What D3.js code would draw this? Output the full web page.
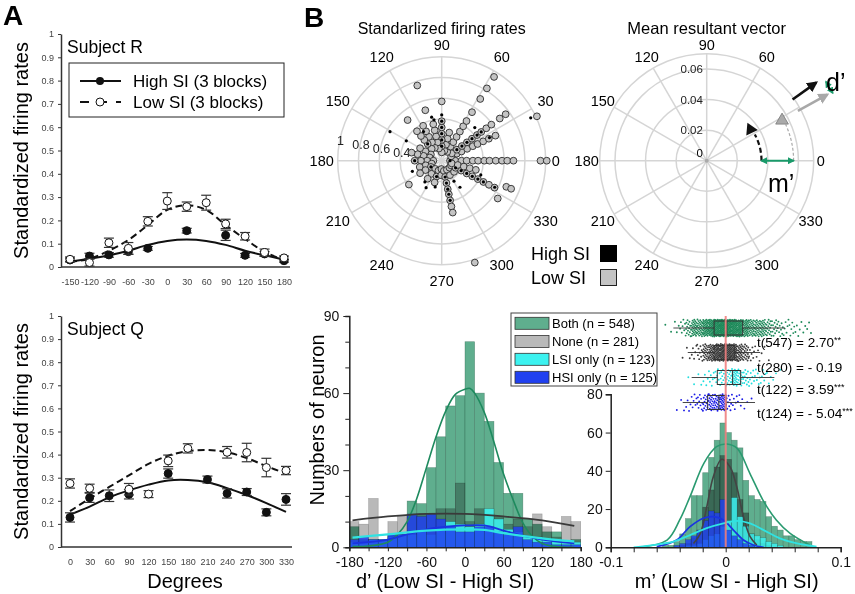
<!DOCTYPE html>
<html><head><meta charset="utf-8">
<script src="https://cdn.jsdelivr.net/npm/d3@7/dist/d3.min.js"></script>
<style>
body{margin:0;background:#fff;}
svg{display:block;}
text{font-family:"Liberation Sans",Arial,Helvetica,sans-serif;}
</style></head><body>
<svg id="fig" width="855" height="594" xmlns="http://www.w3.org/2000/svg"></svg>
<script>
// ================= DATA =================
// Panel A – Subject R
const degR = [-150,-120,-90,-60,-30,0,30,60,90,120,150,180];
const rLowMean = [0.033,0.019,0.104,0.080,0.196,0.283,0.259,0.276,0.185,0.132,0.062,0.039];
const rLowErr  = [0.010,0.015,0.020,0.025,0.020,0.036,0.020,0.032,0.020,0.016,0.015,0.008];
const rHighMean= [0.030,0.047,0.052,0.066,0.080,null,0.156,null,0.136,0.050,0.056,0.027];
const rHighErr = [0.008,0.012,0.010,0.012,0.008,null,0.010,null,0.022,0.008,0.010,0.006];
const rLowFit  = [0.023,0.035,0.070,0.116,0.180,0.245,0.265,0.245,0.180,0.120,0.065,0.030];
const rHighFit = [0.022,0.035,0.050,0.070,0.095,0.112,0.118,0.112,0.095,0.070,0.050,0.032];
// Panel A – Subject Q
const degQ = [0,30,60,90,120,150,180,210,240,270,300,330];
const qLowMean = [0.275,0.254,null,0.250,0.229,0.373,0.427,null,0.410,0.409,0.344,0.331];
const qLowErr  = [0.020,0.018,null,0.025,0.015,0.025,0.020,null,0.025,0.040,0.040,0.018];
const qHighMean= [0.128,0.213,0.222,0.228,null,0.318,null,0.292,0.232,0.238,0.150,0.206];
const qHighErr = [0.020,0.020,0.025,0.020,null,0.020,null,0.015,0.020,0.015,0.015,0.025];
const qLowFit  = [0.155,0.210,0.260,0.310,0.360,0.395,0.415,0.420,0.410,0.385,0.350,0.318];
const qHighFit = [0.140,0.175,0.215,0.245,0.270,0.288,0.290,0.280,0.255,0.225,0.190,0.152];
const yTicksA = [0,0.1,0.2,0.3,0.4,0.5,0.6,0.7,0.8,0.9,1];

// Panel B – polar plots
const polarAngles = [0,30,60,90,120,150,180,210,240,270,300,330];
const firingRings = [0.2,0.4,0.6,0.8,1.0];
const firingRingLabels = [0.4,0.6,0.8,1];
// Low SI neurons: [angle, radii along that direction]
const lowSIRays = [
  [0,   [0.08,0.13,0.19,0.24,0.30,0.35,0.41,0.46,0.52,0.58,0.63,0.69,0.95,1.01]],
  [25,  [0.10,0.16,0.21,0.27,0.33,0.38,0.44,0.50,0.57,1.01]],
  [36,  [0.12,0.18,0.24,0.30,0.36,0.42,0.47,0.53,0.59,0.69,0.76]],
  [58,  [0.10,0.16,0.21,0.27,0.33,0.39,0.45,0.55,0.70,0.82,0.95]],
  [75,  [0.10,0.16,0.22,0.28]],
  [90,  [0.08,0.14,0.20,0.26,0.32,0.38,0.57]],
  [103, [0.12,0.18,0.24,0.30,0.36]],
  [108, [0.51,0.76]],
  [118, [0.14,0.20,0.26,0.32,0.38]],
  [130, [0.15,0.21,0.26,0.31,0.37,0.51]],
  [150, [0.12,0.18,0.24]],
  [165, [0.12,0.18,0.24,0.30]],
  [180, [0.08,0.14,0.20,0.26]],
  [196, [0.10,0.16,0.22]],
  [210, [0.12,0.18,0.24]],
  [216, [0.39]],
  [232, [0.10,0.16,0.22]],
  [252, [0.10,0.16,0.22]],
  [268, [0.08,0.14]],
  [282, [0.10,0.16,0.22,0.28,0.33,0.39,0.45,0.51]],
  [288, [1.03]],
  [300, [0.10,0.16]],
  [318, [0.10,0.16]],
  [333, [0.10,0.15,0.21,0.27,0.33,0.39,0.45,0.51,0.57]],
  [326, [0.65]],
  [338, [0.67,0.72]],
  [345, [0.10,0.16,0.22,0.28,0.34]]
];
// High SI neurons: [angle, radius]
const highSIDots = [
  [90,0.14],[90,0.20],[90,0.26],[90,0.32],[90,0.38],[90,0.44],
  [282,0.16],[282,0.22],[282,0.28],[282,0.33],[282,0.39],
  [36,0.18],[36,0.24],[36,0.30],[36,0.36],[36,0.42],[36,0.47],
  [333,0.15],[333,0.21],[333,0.27],[333,0.33],[333,0.39],[333,0.45],
  [180,0.26],[0,0.08],[130,0.21],[210,0.12],[252,0.16],
  [150.7,0.57],[150.7,0.39],[103,0.43],[100.7,0.40],[122,0.33],
  [25.7,0.95],[25.8,0.51],[333.4,0.57],[301,0.23],[304.5,0.31],
  [231.6,0.26],[256,0.26],[45,0.45],[340,0.40],[200,0.30],[240,0.30]
];
// Mean resultant vector
const mrvRings = [0.02,0.04,0.06,0.07];
const mrvLabels = [0,0.02,0.04,0.06];
const meanVecHigh = {angle:35.5, r:0.0352};
const meanVecLow  = {angle:28.7, r:0.0562};
const dirHigh = {angle:35.5, r0:0.069, r1:0.088};
const dirLow  = {angle:28.7, r0:0.068, r1:0.090};

// d' histogram (15-degree bins from -180)
const dBinStart = [-180,-165,-150,-135,-120,-105,-90,-75,-60,-45,-30,-15,0,15,30,45,60,75,90,105,120,135,150,165];
const dBoth = [8,3,3,3,5,5,18,17,31,43,55,59,80,60,49,33,21,21,11,9,6,6,2,3];
const dNone = [10,9,19,2,10,12,12,13,13,15,15,25,10,15,13,12,9,11,8,13,8,4,12,10];
const dLSI  = [2,2,3,3,4,5,5,6,5,7,10,9,8,9,15,11,7,6,4,4,3,3,2,2];
const dHSI  = [3,4,3,3,5,5,13,12,13,11,8,6,6,8,8,6,5,8,3,2,2,1,1,1];
const dFitBoth = [[-175,0.3],[-150,0.5],[-120,2],[-105,5],[-90,10],[-75,19],[-60,31],[-45,43],[-30,53],[-15,59.5],[0,61.5],[8,61.8],[15,60],[30,52.5],[45,41],[60,28.5],[75,18.4],[90,9.5],[105,4.2],[120,1.5],[135,0.5],[150,0.1],[170,0]];
const dFitNone = [[-175,10.5],[-120,12],[-60,13],[0,13],[60,12],[120,10.5],[170,8.3]];
const dFitLSI  = [[-175,3.8],[-120,5],[-60,6.5],[0,7],[30,6.8],[60,5.5],[120,3.5],[170,2.3]];
const dFitHSI  = [[-175,1.5],[-120,3],[-90,5],[-60,7],[-30,8],[0,8.5],[30,8.5],[60,6.5],[90,4.5],[120,3],[170,1.5]];
const dTicks = [-180,-150,-120,-90,-60,-30,0,30,60,90,120,150,180];
const dTickLabels = [-180,-120,-60,0,60,120,180];

// m' histogram (0.005 bins from -0.1)
const mBinStart = d3.range(40).map(i => -0.1 + i*0.005);
const mBoth = [0,0,0,0,0,0,0,0,0,1, 1,3,7,15,27,27,39,47,56,65, 60,56,52,35,27,25,24,16,11,9, 6,6,4,3,3,0,0,0,0,0];
const mNone = [0,0,0,0,0,0,0,0,0,0, 0,0,1,2,5,9,21,30,42,48, 46,39,25,18,7,4,2,1,0,0, 0,0,0,0,0,0,0,0,0,0];
const mLSI  = [0,0,0,0,0,0,0,0,0,0, 0,0,0,1,1,2,4,6,7,11, 14,26,16,11,7,6,5,3,2,1, 0,0,0,0,0,0,0,0,0,0];
const mHSI  = [0,0,0,0,0,0,0,0,0,0, 0,1,2,4,6,9,14,19,18,25, 9,6,4,2,1,0,0,0,0,0, 0,0,0,0,0,0,0,0,0,0];
const mFitBoth = [[-0.075,0],[-0.051,3.8],[-0.040,14.3],[-0.031,26.5],[-0.019,43.9],[-0.008,52.6],[0.001,54],[0.010,51.7],[0.021,38.7],[0.033,24],[0.044,14.3],[0.056,7.3],[0.073,1.2]];
const mFitNone = [[-0.028,2],[-0.022,7.3],[-0.0165,21],[-0.0107,37],[-0.0035,46],[0.0038,42],[0.0096,31.7],[0.0154,16],[0.0212,5.6],[0.027,1.2]];
const mFitHSI  = [[-0.060,0.3],[-0.0426,3.8],[-0.031,10.8],[-0.0194,15.2],[-0.0107,16],[-0.002,14.3],[0.0067,9],[0.0154,3.8],[0.024,1.2],[0.033,0]];
const mFitLSI  = [[-0.080,0],[-0.0455,3],[-0.031,6.4],[-0.0165,10],[-0.002,12.5],[0.0096,13.8],[0.0212,12.5],[0.033,9],[0.047,4.7],[0.062,2],[0.079,0.3]];
const mTicks = [-0.1,-0.08,-0.06,-0.04,-0.02,0,0.02,0.04,0.06,0.08,0.1];
const mTickLabels = {"-0.1":"-0.1","0":"0","0.1":"0.1"};
// boxplot summaries of m'
const groupNames = ["Both (n = 548)","None (n = 281)","LSI only (n = 123)","HSI only (n = 125)"];
const boxLo  = [-0.0455,-0.033,-0.0296,-0.0374];
const boxQ1  = [-0.0101,-0.0101,-0.0073,-0.0157];
const boxMed = [0.0009,0.0003,0.0060,-0.0059];
const boxQ3  = [0.0148,0.0075,0.0130,0.0003];
const boxHi  = [0.0516,0.0300,0.0423,0.0255];
const tLabels = [["t(547) = 2.70","**"],["t(280) = - 0.19",""],["t(122) = 3.59","***"],["t(124) = - 5.04","***"]];

// ================= DRAW =================
const svg = d3.select('#fig');
const colGreen='#5fae8e', colGray='#b9b9b9', colCyan='#3cf2f0', colBlue='#2040f0';
const lnGreen='#1e8a5e', lnGray='#3a3a3a', lnCyan='#2fe3e3', lnBlue='#1a33e0';

function txt(g,x,y,s,size,o={}){
  const t=g.append('text').attr('x',x).attr('y',y).attr('font-size',size).text(s);
  if(o.anchor) t.attr('text-anchor',o.anchor);
  if(o.base) t.attr('dominant-baseline',o.base);
  if(o.weight) t.attr('font-weight',o.weight);
  if(o.fill) t.attr('fill',o.fill);
  if(o.rotate!==undefined) t.attr('transform',`rotate(${o.rotate},${x},${y})`);
  return t;
}

// ---------- Panel A ----------
function panelA(c){
  const g=svg.append('g');
  const x=d3.scaleLinear().domain([c.deg[0],c.deg[c.deg.length-1]]).range(c.xr);
  const y=d3.scaleLinear().domain([0,1]).range([c.y0,c.y1]);
  const ya=g.append('g').attr('transform','translate(61,0)')
    .call(d3.axisLeft(y).tickValues(yTicksA).tickSize(3).tickSizeOuter(0).tickPadding(4).tickFormat(d=>String(+d.toFixed(1))));
  ya.selectAll('text').attr('font-size',9).attr('fill','#444').attr('font-family','"Liberation Sans",Arial,sans-serif');
  ya.select('.domain').attr('stroke','#333').attr('stroke-width',1.5);
  ya.selectAll('.tick line').attr('stroke','#333');
  const xa=g.append('g').attr('transform',`translate(0,${c.y0})`)
    .call(d3.axisBottom(x).tickValues(c.deg).tickSize(0).tickPadding(12).tickFormat(d=>String(d)));
  xa.select('.domain').remove();
  xa.selectAll('text').attr('font-size',9).attr('fill','#444').attr('font-family','"Liberation Sans",Arial,sans-serif');
  g.append('line').attr('x1',61).attr('x2',c.xEnd).attr('y1',c.y0).attr('y2',c.y0).attr('stroke','#333').attr('stroke-width',1.5);
  const line=d3.line().x((d,i)=>x(c.deg[i])).y(d=>y(d)).curve(d3.curveCatmullRom.alpha(0.5));
  g.append('path').attr('d',line(c.lowFit)).attr('fill','none').attr('stroke','#111').attr('stroke-width',2).attr('stroke-dasharray','7,4');
  g.append('path').attr('d',line(c.highFit)).attr('fill','none').attr('stroke','#111').attr('stroke-width',2);
  const drawPts=(means,errs,filled)=>{
    means.forEach((m,i)=>{
      if(m===null) return;
      const xx=x(c.deg[i]), e=errs[i];
      g.append('line').attr('x1',xx).attr('x2',xx).attr('y1',y(m-e)).attr('y2',y(m+e)).attr('stroke','#333').attr('stroke-width',1);
      [m-e,m+e].forEach(v=>g.append('line').attr('x1',xx-5).attr('x2',xx+5).attr('y1',y(v)).attr('y2',y(v)).attr('stroke','#333').attr('stroke-width',1.2));
    });
    means.forEach((m,i)=>{
      if(m===null) return;
      g.append('circle').attr('cx',x(c.deg[i])).attr('cy',y(m)).attr('r',4)
        .attr('fill',filled?'#111':'#fff').attr('stroke','#111').attr('stroke-width',1);
    });
  };
  drawPts(c.highMean,c.highErr,true);
  drawPts(c.lowMean,c.lowErr,false);
  txt(g,28,(c.y0+c.y1)/2,'Standardized firing rates',20,{anchor:'middle',rotate:-90});
  txt(g,67,c.y1+19,c.title,17.5);
  return g;
}
panelA({deg:degR,xr:[70,284],xEnd:290,y0:267,y1:34,lowMean:rLowMean,lowErr:rLowErr,highMean:rHighMean,highErr:rHighErr,lowFit:rLowFit,highFit:rHighFit,title:'Subject R'});
panelA({deg:degQ,xr:[70,286],xEnd:292,y0:547,y1:316,lowMean:qLowMean,lowErr:qLowErr,highMean:qHighMean,highErr:qHighErr,lowFit:qLowFit,highFit:qHighFit,title:'Subject Q'});
txt(svg,185,588,'Degrees',20,{anchor:'middle'});
// legend A
const lg=svg.append('g');
lg.append('rect').attr('x',69).attr('y',63).attr('width',215).attr('height',54).attr('fill','#fff').attr('stroke','#222').attr('stroke-width',1);
lg.append('line').attr('x1',80).attr('x2',121).attr('y1',81).attr('y2',81).attr('stroke','#111').attr('stroke-width',2);
lg.append('circle').attr('cx',100).attr('cy',81).attr('r',4).attr('fill','#111');
txt(lg,133,87,'High SI (3 blocks)',17);
lg.append('line').attr('x1',80).attr('x2',121).attr('y1',102).attr('y2',102).attr('stroke','#111').attr('stroke-width',2).attr('stroke-dasharray','9,9');
lg.append('circle').attr('cx',100).attr('cy',102).attr('r',4).attr('fill','#fff').attr('stroke','#111');
txt(lg,133,108,'Low SI (3 blocks)',17);
txt(svg,3,25,'A',28,{weight:'bold'});
txt(svg,304,27,'B',28,{weight:'bold'});

// ---------- Panel B polar ----------
function pxy(cx,cy,r,deg){const a=deg*Math.PI/180;return [cx+r*Math.cos(a),cy-r*Math.sin(a)];}
function polarGrid(cx,cy,rs,rings,maxV,skip){
  const g=svg.append('g');
  rings.forEach(v=>g.append('circle').attr('cx',cx).attr('cy',cy).attr('r',rs(v)).attr('fill','none').attr('stroke','#d5d5d5').attr('stroke-width',1.5));
  polarAngles.forEach(a=>{const [x,y]=pxy(cx,cy,rs(maxV),a);g.append('line').attr('x1',cx).attr('y1',cy).attr('x2',x).attr('y2',y).attr('stroke','#d5d5d5').attr('stroke-width',1.5);});
  polarAngles.forEach(a=>{ if(skip && skip.includes(a)) return; const rr=(a===90)?116:(a===0?114:120);const [x,y]=pxy(cx,cy,rr,a);txt(g,x,y,String(a),14.5,{anchor:'middle',base:'central'});});
  return g;
}
// Standardized firing rates polar
const cxL=441.7, cyP=160.7;
const rL=d3.scaleLinear().domain([0,1]).range([0,104]);
const gL=polarGrid(cxL,cyP,rL,firingRings,1,null);
firingRingLabels.forEach(v=>{const [x,y]=pxy(cxL,cyP,rL(v)-1,169);txt(gL,x,y,String(v),12.5,{anchor:'middle',base:'central',fill:'#222'});});
txt(svg,cxL,34,'Standarlized firing rates',16,{anchor:'middle'});
const lowPts=[];lowSIRays.forEach(([a,rs])=>rs.forEach(r=>lowPts.push([a,r])));
svg.append('g').selectAll('circle').data(lowPts).join('circle')
  .attr('cx',d=>pxy(cxL,cyP,rL(d[1]),d[0])[0]).attr('cy',d=>pxy(cxL,cyP,rL(d[1]),d[0])[1])
  .attr('r',3.4).attr('fill','#c4c4c4').attr('stroke','#2a2a2a').attr('stroke-width',0.9);
svg.append('g').selectAll('circle').data(highSIDots).join('circle')
  .attr('cx',d=>pxy(cxL,cyP,rL(d[1]),d[0])[0]).attr('cy',d=>pxy(cxL,cyP,rL(d[1]),d[0])[1])
  .attr('r',1.6).attr('fill','#000');
// legend B
txt(svg,531,260,'High SI',18);
txt(svg,531,284,'Low SI',18);
svg.append('rect').attr('x',600).attr('y',245).attr('width',17).attr('height',17).attr('fill','#000');
svg.append('rect').attr('x',600.5).attr('y',269.5).attr('width',16).attr('height',16).attr('fill','#c4c4c4').attr('stroke','#222').attr('stroke-width',1);

// Mean resultant vector polar
const cxR=706.7;
const rR=d3.scaleLinear().domain([0,0.07]).range([0,107]);
const gM=polarGrid(cxR,cyP,rR,mrvRings,0.07,[30]);
mrvLabels.forEach(v=>{ if(v===0){txt(gM,cxR-7,cyP-4,'0',11.5,{anchor:'middle'});} else txt(gM,cxR-15,cyP-rR(v)+0,String(v),11.5,{anchor:'middle',base:'central',fill:'#222'}); });
gM.append('circle').attr('cx',cxR).attr('cy',cyP).attr('r',2).attr('fill','#aaa');
txt(svg,cxR,34,'Mean resultant vector',16.5,{anchor:'middle'});
const defs=svg.append('defs');
function arrowHead(id,color,size){
  defs.append('marker').attr('id',id).attr('viewBox','0 0 10 10').attr('refX',8).attr('refY',5)
   .attr('markerWidth',size).attr('markerHeight',size).attr('orient','auto-start-reverse').attr('markerUnits','userSpaceOnUse')
   .append('path').attr('d','M0,0 L10,5 L0,10 z').attr('fill',color);
}
arrowHead('ahBlack','#111',11);arrowHead('ahGray','#a8a8a8',11);arrowHead('ahGreen','#1a9a6a',7);
function arcPath(cx,cy,r,a0,a1){const [x0,y0]=pxy(cx,cy,r,a0),[x1,y1]=pxy(cx,cy,r,a1);return `M${x0},${y0} A${r},${r} 0 0 0 ${x1},${y1}`;}
svg.append('path').attr('d',arcPath(cxR,cyP,rR(meanVecLow.r)+1,0,meanVecLow.angle-4)).attr('fill','none').attr('stroke','#aaa').attr('stroke-width',1.2).attr('stroke-dasharray','3,2');
svg.append('path').attr('d',arcPath(cxR,cyP,rR(meanVecHigh.r)+1,0,meanVecHigh.angle-7)).attr('fill','none').attr('stroke','#111').attr('stroke-width',2.2).attr('stroke-dasharray','5,3');
const tri=d3.symbol(d3.symbolTriangle,70);
{const [x,y]=pxy(cxR,cyP,rR(meanVecHigh.r),meanVecHigh.angle);svg.append('path').attr('d',tri()).attr('transform',`translate(${x},${y}) rotate(-25)`).attr('fill','#111');}
{const [x,y]=pxy(cxR,cyP,rR(meanVecLow.r),meanVecLow.angle);svg.append('path').attr('d',tri()).attr('transform',`translate(${x},${y+1}) rotate(0)`).attr('fill','#aaa').attr('stroke','#777').attr('stroke-width',0.8);}
[[dirHigh,'#111','ahBlack'],[dirLow,'#a8a8a8','ahGray']].forEach(([d,c,m])=>{
  const [x0,y0]=pxy(cxR,cyP,rR(d.r0),d.angle),[x1,y1]=pxy(cxR,cyP,rR(d.r1),d.angle);
  svg.append('line').attr('x1',x0).attr('y1',y0).attr('x2',x1).attr('y2',y1).attr('stroke',c).attr('stroke-width',2.6).attr('marker-end',`url(#${m})`);
});
{const [x0,y0]=pxy(cxR,cyP,143,33.5),[x1,y1]=pxy(cxR,cyP,143,28.2);
 svg.append('line').attr('x1',x0).attr('y1',y0).attr('x2',x1).attr('y2',y1).attr('stroke','#1a9a6a').attr('stroke-width',1.6).attr('marker-start','url(#ahGreen)').attr('marker-end','url(#ahGreen)');}
svg.append('line').attr('x1',cxR+rR(meanVecHigh.r)+1).attr('x2',cxR+rR(meanVecLow.r)+1).attr('y1',cyP).attr('y2',cyP).attr('stroke','#1a9a6a').attr('stroke-width',2).attr('marker-start','url(#ahGreen)').attr('marker-end','url(#ahGreen)');
txt(svg,826,91,'d\u2019',25);
txt(svg,768,192,'m\u2019',25);

// ---------- histograms ----------
function bars(g,x,y,starts,w,vals,color,o){
  const s=g.append('g');
  if(o.blend) s.style('mix-blend-mode',o.blend);
  s.selectAll('rect').data(vals.map((v,i)=>({s:starts[i],v}))).join('rect')
    .attr('x',d=>x(d.s)).attr('width',d=>x(d.s+w)-x(d.s)).attr('y',d=>y(d.v)).attr('height',d=>y(0)-y(d.v))
    .attr('fill',color).attr('fill-opacity',o.op||1).attr('stroke',o.stroke||'rgba(0,0,0,0.25)').attr('stroke-width',0.6);
}
function fitLine(g,x,y,pts,color,w){
  g.append('path').attr('d',d3.line().x(d=>x(d[0])).y(d=>y(d[1])).curve(d3.curveCatmullRom.alpha(0.5))(pts))
    .attr('fill','none').attr('stroke',color).attr('stroke-width',w);
}
function styleAxis(a,size){a.selectAll('text').attr('font-size',size).attr('fill','#111').attr('font-family','"Liberation Sans",Arial,sans-serif');a.select('.domain').attr('stroke','#222').attr('stroke-width',1.5);a.selectAll('.tick line').attr('stroke','#222');}

// d' histogram
{
  const g=svg.append('g');
  const x=d3.scaleLinear().domain([-180,180]).range([349.3,580.7]);
  const y=d3.scaleLinear().domain([0,90]).range([547.3,316]);
  bars(g,x,y,dBinStart,15,dNone,colGray,{});
  bars(g,x,y,dBinStart,15,dBoth,colGreen,{blend:'multiply',stroke:'rgba(40,90,70,0.5)'});
  bars(g,x,y,dBinStart,15,dLSI,colCyan,{op:0.88});
  bars(g,x,y,dBinStart,15,dHSI,colBlue,{op:0.85});
  fitLine(g,x,y,dFitBoth,lnGreen,1.6);
  fitLine(g,x,y,dFitNone,lnGray,1.8);
  fitLine(g,x,y,dFitHSI,lnBlue,1.8);
  fitLine(g,x,y,dFitLSI,lnCyan,2.2);
  const ya=g.append('g').attr('transform','translate(349.3,0)').call(d3.axisLeft(y).tickValues(d3.range(0,91,10)).tickSizeOuter(0).tickSize(4).tickPadding(6).tickFormat(d=>d%30===0?String(d):''));
  ya.selectAll('.tick').filter(d=>d%30===0).select('line').attr('x2',-6);
  styleAxis(ya,14);
  const xa=g.append('g').attr('transform','translate(0,547.3)').call(d3.axisBottom(x).tickValues(dTicks).tickSizeOuter(0).tickSize(4).tickPadding(6).tickFormat(d=>dTickLabels.includes(d)?String(d):''));
  styleAxis(xa,14);
  txt(svg,445,588,'d\u2019 (Low SI - High SI)',20,{anchor:'middle'});
  txt(svg,324,420,'Numbers of neuron',20,{anchor:'middle',rotate:-90});
}
// m' histogram
{
  const g=svg.append('g');
  const x=d3.scaleLinear().domain([-0.1,0.1]).range([610.7,840.7]);
  const y=d3.scaleLinear().domain([0,80]).range([547.3,394.3]);
  bars(g,x,y,mBinStart,0.005,mNone,'#9a9a9a',{});
  bars(g,x,y,mBinStart,0.005,mBoth,colGreen,{blend:'multiply',stroke:'rgba(40,90,70,0.5)'});
  bars(g,x,y,mBinStart,0.005,mLSI,colCyan,{op:0.85});
  bars(g,x,y,mBinStart,0.005,mHSI,colBlue,{op:0.82});
  fitLine(g,x,y,mFitBoth,'#2a9a70',1.6);
  fitLine(g,x,y,mFitNone,'#444',1.6);
  fitLine(g,x,y,mFitHSI,lnBlue,1.8);
  fitLine(g,x,y,mFitLSI,lnCyan,1.8);
  const ya=g.append('g').attr('transform','translate(610.7,0)').call(d3.axisLeft(y).tickValues([0,20,40,60,80]).tickSizeOuter(0).tickSize(5).tickPadding(3).tickFormat(d=>String(d)));
  styleAxis(ya,14);
  const xa=g.append('g').attr('transform','translate(0,547.3)').call(d3.axisBottom(x).tickValues(mTicks).tickSizeOuter(0).tickSize(5).tickPadding(5).tickFormat(d=>mTickLabels[String(d)]||''));
  styleAxis(xa,14);
  txt(svg,726.7,588,'m\u2019 (Low SI - High SI)',20,{anchor:'middle'});
  // jittered neurons (one dot per neuron counted in the histogram bins) + boxplots
  const hists=[mBoth,mNone,mLSI,mHSI];
  const dotCols=['#1e8a5a','#3a3a3a','#22dede','#1a1ae6'];
  const yc=[328,352.5,377.5,402.5];
  hists.forEach((h,gi)=>{
    const pts=[];
    h.forEach((c,i)=>{for(let k=0;k<c;k++){
      const fx=(k+0.5)/c, fy=((k+1)*0.618034+i*0.41+gi*0.27)%1;
      pts.push([mBinStart[i]+fx*0.005, yc[gi]+(fy-0.5)*17]);
    }});
    g.append('g').selectAll('circle').data(pts).join('circle').attr('cx',d=>x(d[0])).attr('cy',d=>d[1]).attr('r',0.95).attr('fill',dotCols[gi]);
    const bh=14;
    g.append('line').attr('x1',x(boxLo[gi])).attr('x2',x(boxQ1[gi])).attr('y1',yc[gi]).attr('y2',yc[gi]).attr('stroke','#333').attr('stroke-width',0.9);
    g.append('line').attr('x1',x(boxQ3[gi])).attr('x2',x(boxHi[gi])).attr('y1',yc[gi]).attr('y2',yc[gi]).attr('stroke','#333').attr('stroke-width',0.9);
    g.append('rect').attr('x',x(boxQ1[gi])).attr('y',yc[gi]-bh/2).attr('width',x(boxQ3[gi])-x(boxQ1[gi])).attr('height',bh).attr('fill','none').attr('stroke','#333').attr('stroke-width',1);
    g.append('line').attr('x1',x(boxMed[gi])).attr('x2',x(boxMed[gi])).attr('y1',yc[gi]-bh/2).attr('y2',yc[gi]+bh/2).attr('stroke','#333').attr('stroke-width',1);
  });
  g.append('line').attr('x1',x(0)).attr('x2',x(0)).attr('y1',316).attr('y2',547).attr('stroke','#f07f7f').attr('stroke-width',2).attr('stroke-opacity',0.9);
  const ty=[346.5,371.5,394,418];
  tLabels.forEach((t,i)=>{
    const tt=txt(svg,757,ty[i],t[0],13.5);
    if(t[1]) tt.append('tspan').attr('font-size',9).attr('dy',-4).text(t[1]);
  });
}
// legend for histograms
{
  const g=svg.append('g');
  g.append('rect').attr('x',511).attr('y',313).attr('width',146).attr('height',73).attr('fill','#fff').attr('stroke','#444').attr('stroke-width',1);
  const sw=[colGreen,colGray,colCyan,colBlue];
  const yy=[323.3,341.5,359.3,377.3];
  groupNames.forEach((n,i)=>{
    g.append('rect').attr('x',515).attr('y',yy[i]-6).attr('width',34).attr('height',12).attr('fill',sw[i]).attr('stroke','#333').attr('stroke-width',0.8);
    txt(g,552,yy[i]+4.5,n,13);
  });
}
</script>
</body></html>
